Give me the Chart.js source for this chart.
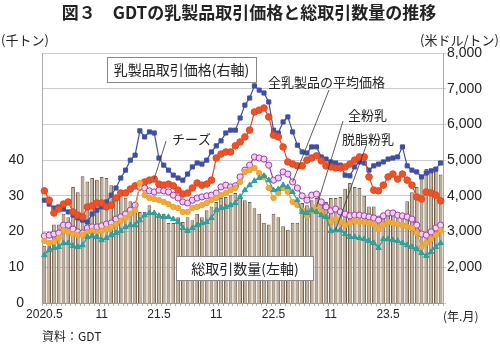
<!DOCTYPE html>
<html>
<head>
<meta charset="utf-8">
<script src="https://cdn.jsdelivr.net/npm/chart.js@4.4.1/dist/chart.umd.min.js"></script>
<style>
  html, body { margin: 0; padding: 0; background: #fff; }
  #wrap { width: 500px; height: 346px; position: relative; }
</style>
</head>
<body>
<div id="wrap"><canvas id="c" width="500" height="346"></canvas></div>
<script>
// GDT 取引イベント（月2回）ごとの値、2020.5〜2023.10

const xLabels = [
  '2020.5', '', '', '', '', '', '', '', '', '', '', '',
  '11', '', '', '', '', '', '', '', '', '', '', '',
  '21.5', '', '', '', '', '', '', '', '', '', '', '',
  '11', '', '', '', '', '', '', '', '', '', '', '',
  '22.5', '', '', '', '', '', '', '', '', '', '', '',
  '11', '', '', '', '', '', '', '', '', '', '', '',
  '23.5', '', '', '', '', '', '', '', '', '', '', ''
];

// 総取引数量（千トン、左軸）
const volume = [
  16, 16, 22, 22, 25, 24, 32.5, 31, 35.5, 34, 35, 34.5,
  35.3, 35, 33, 30, 31, 29.5, 28.5, 27, 25.5, 25.5, 27.4, 25.5,
  25, 25, 22.4, 22.4, 24, 22.7, 24, 23.2, 25, 24, 26, 27,
  28.3, 29.4, 29.7, 30.2, 30.8, 30.2, 28.8, 28.3, 26.5, 25, 22.5, 22,
  25, 24, 21.5, 20.5, 22.5, 22.5, 28, 27.4, 28.8, 29.4, 28.8, 28.3,
  29.4, 29.4, 29.7, 32, 33.6, 32.5, 32.2, 30, 27, 27, 24.5, 24.5,
  25, 25, 24.5, 25, 28.5, 31, 32.5, 35, 37.5, 37, 37, 36
];

// 価格（米ドル/トン、右軸）
const butter = [
  3880, 3770, 3660, 3690, 3630, 3550, 3460, 3380, 3320, 3270, 3490, 3600,
  3690, 3830, 4020, 4220, 4500, 4720, 5000, 5140, 5820, 5650, 5790, 5760,
  5060, 4860, 4720, 4580, 4500, 4440, 4610, 4810, 4920, 4890, 5000, 5230,
  5400, 5540, 5760, 5840, 5840, 6180, 6540, 6740, 7080, 6960, 6880, 6630,
  5840, 5760, 6070, 6210, 5790, 5420, 5230, 5200, 5370, 5370, 5090, 5030,
  4950, 4920, 4860, 4580, 4560, 4810, 4950, 4920, 4720, 4840, 4890, 4950,
  5030, 5060, 5090, 5370, 4840, 4720, 4670, 4530, 4640, 4700, 4750, 4920
];

const cheese = [
  4140, 3880, 3520, 3630, 3770, 3830, 3550, 3460, 3410, 3690, 3720, 3800,
  3800, 3690, 3740, 3940, 4080, 4080, 4190, 4280, 4250, 4390, 4440, 4470,
  4330, 4300, 4330, 4280, 4160, 4050, 4080, 4220, 4360, 4300, 4330, 4440,
  5060, 5170, 5230, 5230, 5400, 5510, 5650, 5840, 6350, 6400, 6460, 6210,
  5700, 5650, 5370, 4950, 4890, 4840, 4840, 5000, 5060, 5120, 4980, 4840,
  4810, 4780, 4780, 4810, 4890, 5000, 5090, 5090, 4530, 4160, 4140, 4300,
  4530, 4610, 4470, 4610, 4440, 4300, 3970, 3910, 4110, 4080, 4020, 3860
];

const average = [
  2880, 2900, 2930, 2960, 3180, 3180, 3070, 2990, 2960, 3100, 3130, 3130,
  3160, 3210, 3240, 3350, 3410, 3490, 3600, 3740, 4250, 4220, 4140, 4110,
  4160, 4140, 4110, 4020, 3940, 3830, 3800, 3880, 3940, 3970, 4000, 4020,
  4080, 4250, 4300, 4250, 4280, 4530, 4720, 4860, 5090, 5060, 5030, 4860,
  4440, 4500, 4670, 4610, 4390, 4220, 4000, 3880, 4020, 4050, 3830, 3690,
  3580, 3630, 3550, 3490, 3440, 3460, 3460, 3440, 3410, 3380, 3320, 3440,
  3520, 3520, 3460, 3440, 3410, 3350, 3180, 2930, 2900, 2990, 3100, 3180
];

const wmp = [
  2740, 2680, 2710, 2820, 3040, 2990, 2930, 2900, 2900, 2990, 3020, 2990,
  3020, 3070, 3130, 3210, 3300, 3380, 3490, 3600, 4360, 4020, 3940, 3910,
  3880, 3830, 3770, 3690, 3660, 3550, 3550, 3660, 3690, 3740, 3800, 3880,
  3940, 4020, 4080, 4160, 4220, 4390, 4670, 4720, 4780, 4640, 4530, 4220,
  3940, 4080, 4220, 4110, 3830, 3740, 3600, 3440, 3600, 3690, 3550, 3410,
  3270, 3350, 3270, 3180, 3240, 3300, 3270, 3270, 3240, 3210, 3070, 3180,
  3270, 3240, 3210, 3180, 3130, 3100, 2960, 2570, 2680, 2790, 2900, 3040
];

const smp = [
  2340, 2480, 2540, 2570, 2680, 2680, 2600, 2570, 2620, 2850, 2880, 2850,
  2760, 2820, 2900, 2960, 3020, 3130, 3180, 3180, 3320, 3460, 3520, 3520,
  3440, 3410, 3410, 3350, 3270, 3100, 3020, 3100, 3180, 3240, 3270, 3380,
  3600, 3660, 3690, 3740, 3800, 3970, 4160, 4300, 4420, 4500, 4560, 4440,
  4160, 4190, 4300, 4250, 4110, 3880, 3550, 3520, 3600, 3550, 3460, 3410,
  3020, 3040, 3040, 2930, 2850, 2850, 2820, 2790, 2740, 2680, 2540, 2790,
  2790, 2760, 2740, 2680, 2620, 2570, 2510, 2400, 2320, 2430, 2570, 2680
];

const JP = '"Noto Sans CJK JP", "Noto Sans", sans-serif';
const NUM = '"Liberation Sans", Arial, sans-serif';

function lineSet(label, data, color, fill, style, radius, order) {
  return {
    type: 'line',
    label: label,
    data: data,
    yAxisID: 'yR',
    borderColor: color,
    borderWidth: 1.2,
    pointStyle: style,
    pointRadius: radius,
    pointBackgroundColor: fill,
    pointBorderColor: color,
    pointBorderWidth: 1,
    tension: 0,
    order: order
  };
}

// 見出し・凡例枠・引き出し線
const decor = {
  id: 'decor',
  afterDraw(chart) {
    const ctx = chart.ctx;
    const x = chart.scales.x;
    const yR = chart.scales.yR;
    ctx.save();
    ctx.fillStyle = '#222';
    ctx.textBaseline = 'middle';

    ctx.font = 'bold 17px ' + JP;
    ctx.textAlign = 'center';
    ctx.fillText('図３　GDTの乳製品取引価格と総取引数量の推移', 249, 13);

    ctx.font = '13px ' + JP;
    ctx.textAlign = 'left';
    ctx.fillText('(千トン)', 1, 40);
    ctx.textAlign = 'right';
    ctx.fillText('(米ドル/トン)', 499, 40);
    ctx.textAlign = 'left';
    ctx.font = '12px ' + JP;
    ctx.fillText('(年.月)', 443, 316);
    ctx.fillText('資料：GDT', 42, 336);

    // 凡例枠
    ctx.strokeStyle = '#888';
    ctx.lineWidth = 1;
    ctx.fillStyle = '#fff';
    ctx.fillRect(107, 57, 149, 25);
    ctx.strokeRect(107.5, 57.5, 149, 25);
    ctx.fillRect(176, 256, 137, 24);
    ctx.strokeRect(176.5, 256.5, 137, 24);
    ctx.fillStyle = '#222';
    ctx.font = '14px ' + JP;
    ctx.textAlign = 'center';
    ctx.fillText('乳製品取引価格(右軸)', 181.5, 70);
    ctx.fillText('総取引数量(左軸)', 245, 268.5);

    // 系列名と引き出し線
    const notes = [
      { text: 'チーズ', tx: 172, ty: 139, sx: 166, sy: 141, series: cheese, i: 23 },
      { text: '全乳製品の平均価格', tx: 268, ty: 82, sx: 329, sy: 90, series: average, i: 52 },
      { text: '全粉乳', tx: 348, ty: 115, sx: 343, sy: 121, series: wmp, i: 57 },
      { text: '脱脂粉乳', tx: 342, ty: 139, sx: 366, sy: 146, series: smp, i: 61 }
    ];
    ctx.font = '13px ' + JP;
    ctx.textAlign = 'left';
    ctx.strokeStyle = '#333';
    ctx.lineWidth = 0.8;
    notes.forEach((n) => {
      ctx.fillText(n.text, n.tx, n.ty);
      ctx.beginPath();
      ctx.moveTo(n.sx, n.sy);
      ctx.lineTo(x.getPixelForValue(n.i), yR.getPixelForValue(n.series[n.i]));
      ctx.stroke();
    });
    ctx.restore();
  }
};

new Chart(document.getElementById('c'), {
  type: 'bar',
  data: {
    labels: xLabels,
    datasets: [
      lineSet('バター', butter, '#3f4fa6', '#3f4fa6', 'rect', 2.9, 5),
      lineSet('チーズ', cheese, '#e6461f', '#ec5428', 'circle', 3.3, 4),
      lineSet('全乳製品の平均価格', average, '#9a3fa8', '#f3cdf3', 'circle', 3.1, 3),
      lineSet('全粉乳', wmp, '#e9a032', '#f2ab38', 'circle', 2.7, 2),
      lineSet('脱脂粉乳', smp, '#2b9e9a', '#2ea5a0', 'triangle', 3.1, 1),
      {
        type: 'bar',
        label: '総取引数量',
        data: volume,
        yAxisID: 'yL',
        backgroundColor: '#c1ad94',
        borderColor: '#6c5a48',
        borderWidth: 1,
        barPercentage: 0.78,
        categoryPercentage: 1,
        order: 10
      }
    ]
  },
  options: {
    responsive: false,
    animation: false,
    layout: { padding: { top: 53, left: 0, right: 0, bottom: 0 } },
    plugins: {
      legend: { display: false },
      tooltip: { enabled: false }
    },
    scales: {
      x: {
        afterFit: (s) => { s.height = 43; },
        grid: { display: true, drawOnChartArea: false, tickLength: 3, color: '#b0b0b0' },
        border: { color: '#999' },
        ticks: {
          autoSkip: false,
          maxRotation: 0,
          padding: 1,
          color: '#222',
          font: { family: NUM, size: 12 }
        }
      },
      yL: {
        position: 'left',
        min: 0,
        max: 70,
        afterFit: (s) => { s.width = 42; },
        grid: { display: false },
        border: { display: true, color: '#aaa' },
        ticks: {
          stepSize: 10,
          padding: 10,
          color: '#222',
          font: { family: NUM, size: 14 },
          callback: (v) => (v <= 40 ? v : '')
        }
      },
      yR: {
        position: 'right',
        min: 1000,
        max: 8000,
        afterFit: (s) => { s.width = 57; },
        grid: { color: '#cccccc', tickLength: 3 },
        border: { display: true, color: '#aaa' },
        ticks: {
          stepSize: 1000,
          padding: 1,
          color: '#222',
          font: { family: NUM, size: 14 },
          callback: (v) => (v === 1000 ? '' : v.toLocaleString('en-US'))
        }
      }
    }
  },
  plugins: [decor]
});
</script>
</body>
</html>
